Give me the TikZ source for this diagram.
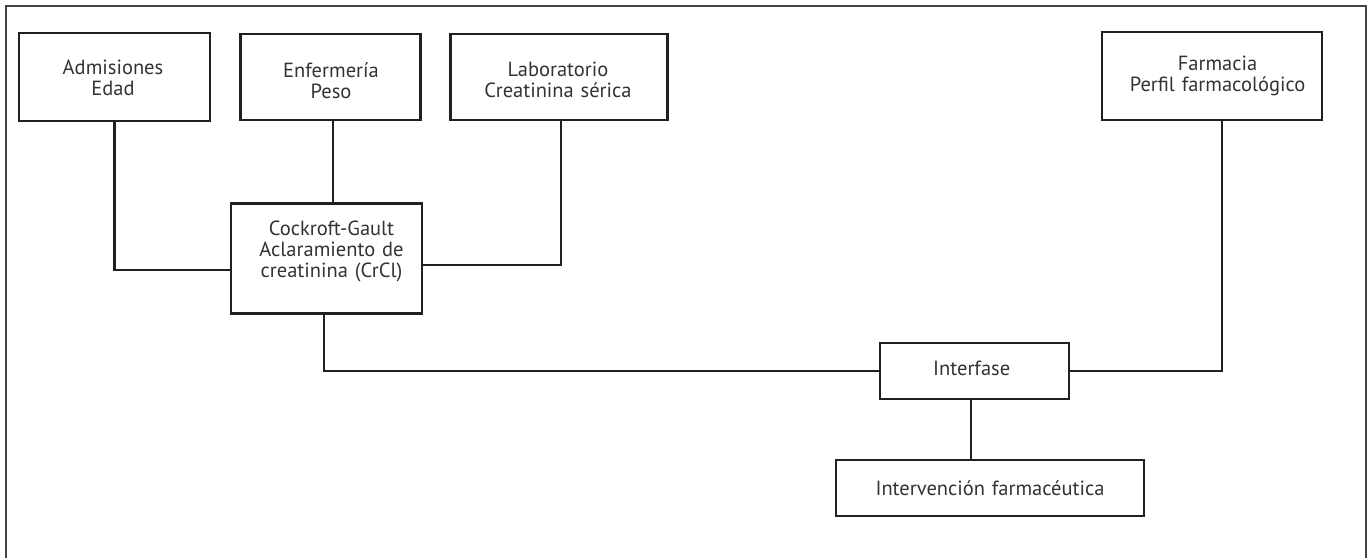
\documentclass[tikz,border=0pt]{standalone}
\usepackage{fontspec}
\setmainfont{PT Sans}
\definecolor{ink}{HTML}{231F20}
\definecolor{txt}{HTML}{333333}
\definecolor{frame}{HTML}{444444}
\tikzset{
  box/.style={draw=ink, line width=2.6pt, rectangle, inner sep=0pt, fill=white},
  lbl/.style={text=txt, font=\fontsize{20.5}{21}\selectfont, anchor=base, text width=260pt, align=center, inner sep=0pt},
  conn/.style={draw=ink, line width=2.3pt},
}
\begin{document}
\begin{tikzpicture}[x=1pt,y=-1pt]
\useasboundingbox (0,0) rectangle (1369,558);
\draw[frame, line width=1.3pt] (6,558) -- (6,6) -- (1366,6) -- (1366,558);
% boxes
\node[box, minimum width=191, minimum height=88] (adm) at (114.5,77) {};
\node[box, minimum width=180, minimum height=86] (enf) at (330.7,77) {};
\node[box, minimum width=217, minimum height=86] (lab) at (559.2,77) {};
\node[box, minimum width=220, minimum height=88] (far) at (1212,76) {};
\node[box, minimum width=191, minimum height=110] (cg) at (326.5,258.3) {};
\node[box, minimum width=189, minimum height=56] (int) at (974.5,371) {};
\node[box, minimum width=308, minimum height=56] (iv) at (990,488) {};
% texts
\node[lbl] (admT) at (113,74.5) {Admisiones\\Edad};
\node[lbl] (enfT) at (331,77) {Enfermería\\Peso};
\node[lbl] (labT) at (558,76) {Laboratorio\\Creatinina sérica};
\node[lbl] (farT) at (1217.5,70) {Farmacia\\Perfil farmacológico};
\node[lbl] (cgT) at (331.5,235) {Cockroft-Gault\\Aclaramiento de\\creatinina (CrCl)};
\node[lbl] (intT) at (971.7,375) {Interfase};
\node[lbl] (ivT) at (990,495) {Intervención farmacéutica};
% connector turning points
\coordinate (admTurn) at (114.5,270);
\coordinate (labTurn) at (560.7,265);
% connectors
\draw[conn] (adm.south) -- (admTurn) -- (admTurn -| cg.west);
\draw[conn] ([xshift=2pt]enf.south) -- ([xshift=2pt]enf.south |- cg.north);
\draw[conn] ([xshift=1.5pt]lab.south) -- (labTurn) -- (labTurn -| cg.east);
\draw[conn] ([xshift=-2.5pt]cg.south) |- (int.west);
\draw[conn] (int.east) -| ([xshift=10pt]far.south);
\draw[conn] ([xshift=-3.5pt]int.south) -- ([xshift=-3.5pt]int.south |- iv.north);
\end{tikzpicture}
\end{document}
